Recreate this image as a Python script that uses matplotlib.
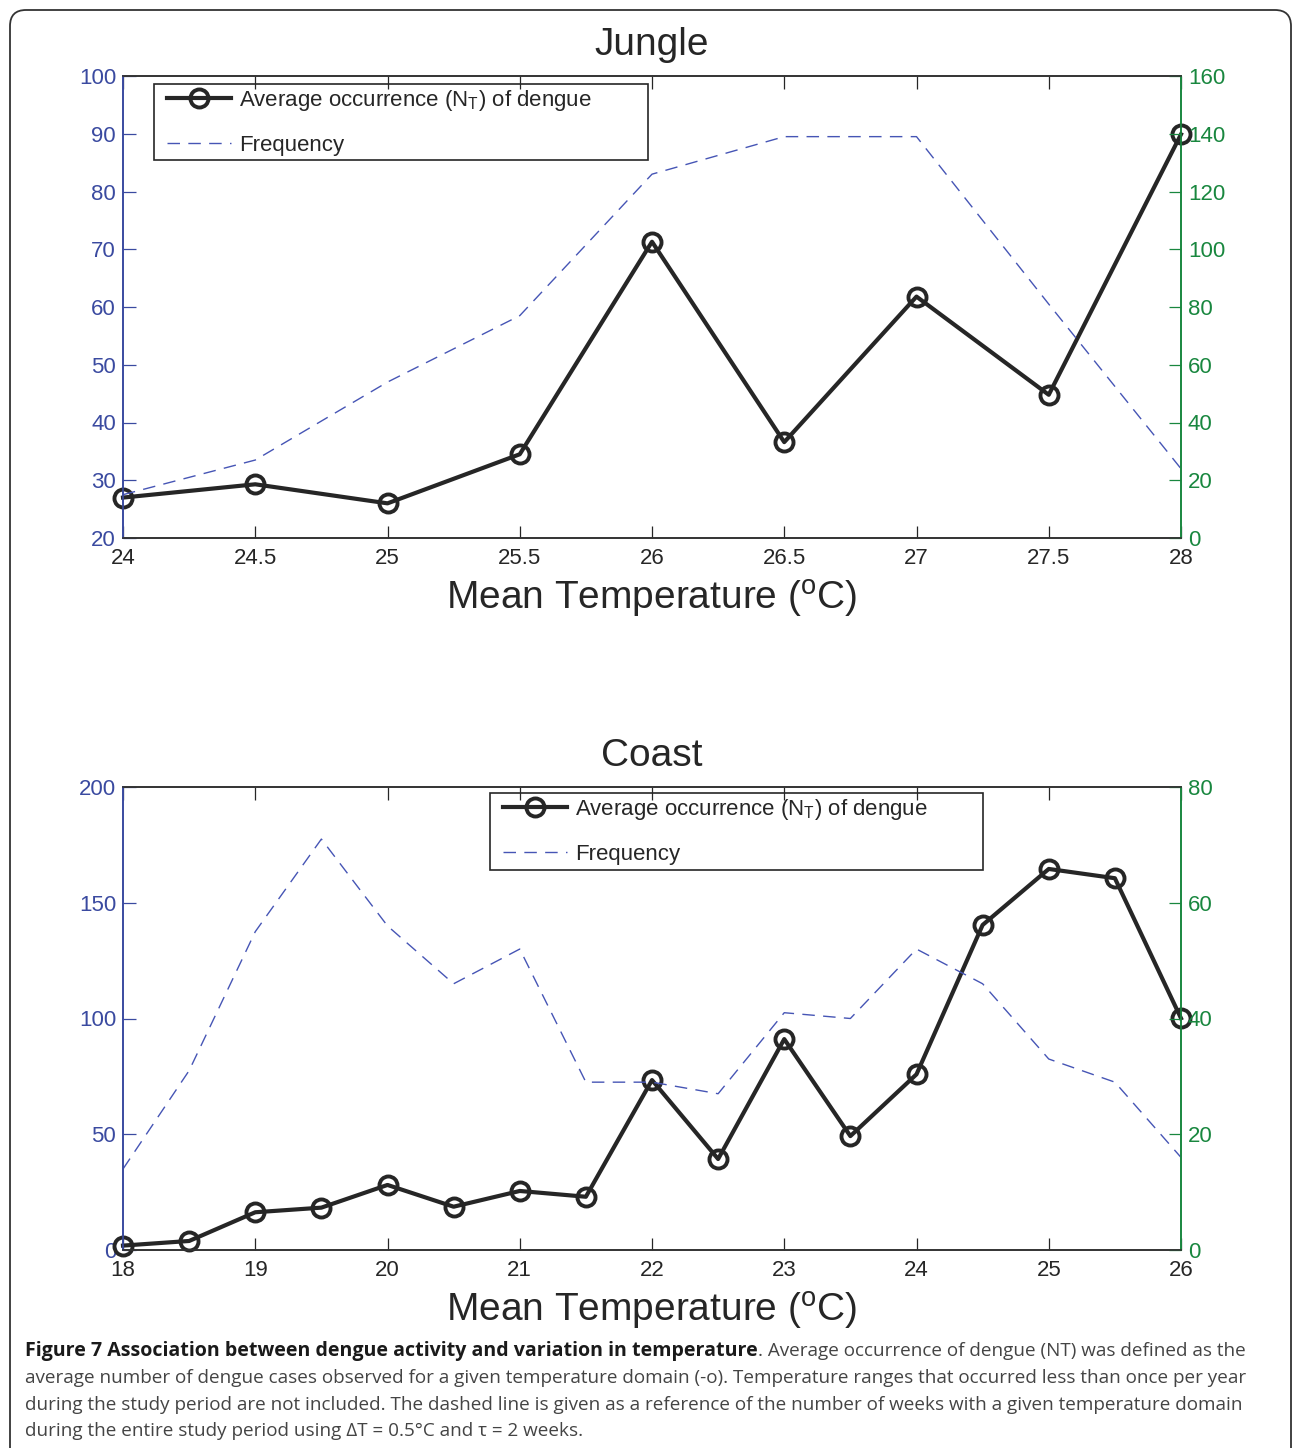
import matplotlib
matplotlib.use("Agg")
import matplotlib.pyplot as plt
from matplotlib.patches import FancyBboxPatch, Rectangle
from matplotlib.transforms import IdentityTransform, offset_copy

plt.rcParams['font.family'] = 'Liberation Sans'
plt.rcParams['mathtext.fontset'] = 'custom'
plt.rcParams['mathtext.rm'] = 'Liberation Sans'
plt.rcParams['mathtext.it'] = 'Liberation Sans'

# data
jungle_temp = [24, 24.5, 25, 25.5, 26, 26.5, 27, 27.5, 28]
jungle_occ = [27.0, 29.3, 26.0, 34.5, 71.3, 36.6, 61.8, 44.8, 89.9]
jungle_freq = [15, 27, 54, 77, 126, 139, 139, 81, 24]
jungle_xticks = [24, 24.5, 25, 25.5, 26, 26.5, 27, 27.5, 28]
jungle_xlabels = ['24', '24.5', '25', '25.5', '26', '26.5', '27', '27.5', '28']

coast_temp = [18, 18.5, 19, 19.5, 20, 20.5, 21, 21.5, 22, 22.5, 23, 23.5, 24, 24.5, 25, 25.5, 26]
coast_occ = [1.9, 3.9, 16.3, 18.3, 28.1, 18.7, 25.5, 23.0, 73.4, 39.3, 91.1, 49.2, 75.9,
             140.4, 164.6, 160.6, 100.1]
coast_freq = [14, 31, 55, 71, 56, 46, 52, 29, 29, 27, 41, 40, 52, 46, 33, 29, 16]
coast_xticks = [18, 19, 20, 21, 22, 23, 24, 25, 26]
coast_xlabels = ['18', '19', '20', '21', '22', '23', '24', '25', '26']

BLUE = '#3a4aa0'
DASH = '#4655b5'
GREEN = '#19873f'
DARK = '#262626'
FS = 16

W, H = 1293, 1448
fig = plt.figure(figsize=(W / 100, H / 100), dpi=100)


def fbox(x0, y0, x1, y1):
    # pixel box (from top-left) -> figure fraction [left, bottom, width, height]
    return [x0 / W, 1 - y1 / H, (x1 - x0) / W, (y1 - y0) / H]


def panel(rect, title, temp, occ, freq, ylim_l, yt_l, ylim_r, yt_r, xt, xl, leg_xy, frame):
    ax = fig.add_axes(fbox(*rect))
    ax2 = ax.twinx()
    l1, = ax.plot(temp, occ, '-o', color=DARK, lw=3, ms=13, mew=2.8, mfc='none',
                  clip_on=False, zorder=3)
    l2, = ax2.plot(temp, freq, color=DASH, lw=1, dashes=(9, 6))
    ax.set_xlim(temp[0], temp[-1])
    ax.set_xticks(xt)
    ax.set_xticklabels(xl)
    ax.set_ylim(*ylim_l)
    ax.set_yticks(yt_l)
    ax2.set_ylim(*ylim_r)
    ax2.set_yticks(yt_r)
    ax.tick_params(axis='x', direction='in', length=9, width=0.9, top=True,
                   labelsize=FS, colors=DARK, pad=7)
    ax.tick_params(axis='y', direction='in', length=9, width=0.9, colors=BLUE,
                   labelsize=FS, pad=5)
    ax2.tick_params(axis='y', direction='in', length=9, width=0.9, colors=GREEN,
                    labelsize=FS, pad=5)
    for a in (ax, ax2):
        a.spines['left'].set_color(BLUE)
        a.spines['right'].set_color(GREEN)
        a.spines['top'].set_color('#333333')
        a.spines['bottom'].set_color('#333333')
        for s in a.spines.values():
            s.set_linewidth(1.2)
    ax.set_title(title, fontsize=28, pad=15, color=DARK)
    ax.set_xlabel('Mean Temperature ($^{\\mathrm{o}}$C)', fontsize=28, color=DARK, labelpad=7)

    leg = ax2.legend([l1, l2], ['Average occurrence (N$_{\\mathrm{T}}$) of dengue', 'Frequency'],
                     loc='upper left', bbox_to_anchor=(leg_xy[0] / W, 1 - leg_xy[1] / H),
                     bbox_transform=fig.transFigure, frameon=False, fontsize=FS,
                     borderpad=0, borderaxespad=0, handlelength=2.9, handletextpad=0.35,
                     labelspacing=1.0)
    for t in leg.get_texts():
        t.set_color(DARK)
    x0, y0, x1, y1 = frame
    fig.add_artist(Rectangle((x0 / W, 1 - y1 / H), (x1 - x0) / W, (y1 - y0) / H,
                             transform=fig.transFigure, fill=False, ec=DARK, lw=1.2))
    return ax, ax2


panel((123, 76, 1181, 538), 'Jungle', jungle_temp, jungle_occ, jungle_freq,
      (20, 100), range(20, 101, 10), (0, 160), range(0, 161, 20),
      jungle_xticks, jungle_xlabels, (167, 88), (154, 84, 648, 160))

panel((123, 787, 1181, 1250), 'Coast', coast_temp, coast_occ, coast_freq,
      (0, 200), range(0, 201, 50), (0, 80), range(0, 81, 20),
      coast_xticks, coast_xlabels, (503, 797), (490, 793, 983, 870))

# rounded frame around the figure
fig.add_artist(FancyBboxPatch((10, -30), 1281, H - 10 + 30,
                              boxstyle='round,pad=0,rounding_size=16',
                              transform=IdentityTransform(), fill=False,
                              ec='#333333', lw=1.3))

# caption
cap_font = 'Open Sans'
cap_size = 13.6
cap_col = '#444444'
bold = fig.text(25 / W, 1 - 1351 / H,
                'Figure 7 Association between dengue activity and variation in temperature',
                fontsize=14.1, family=cap_font, weight='bold', color='#1a1a1a',
                va='center', ha='left')
fig.canvas.draw()
fig.text(0, 0, '. Average occurrence of dengue (NT) was defined as the',
         fontsize=cap_size, family=cap_font, color=cap_col, va='center', ha='left',
         transform=offset_copy(fig.transFigure, fig=fig, x=bold.get_window_extent().x1,
                               y=H - 1351, units='dots'))
caption_rest = [
    'average number of dengue cases observed for a given temperature domain (-o). '
    'Temperature ranges that occurred less than once per year',
    'during the study period are not included. The dashed line is given as a reference '
    'of the number of weeks with a given temperature domain',
    'during the entire study period using \u0394T = 0.5\u00b0C and \u03c4 = 2 weeks.',
]
for i, line in enumerate(caption_rest):
    fig.text(25 / W, 1 - (1378 + 26.5 * i) / H, line, fontsize=cap_size, family=cap_font,
             color=cap_col, va='center', ha='left')

fig.savefig('out.png', dpi=100)
